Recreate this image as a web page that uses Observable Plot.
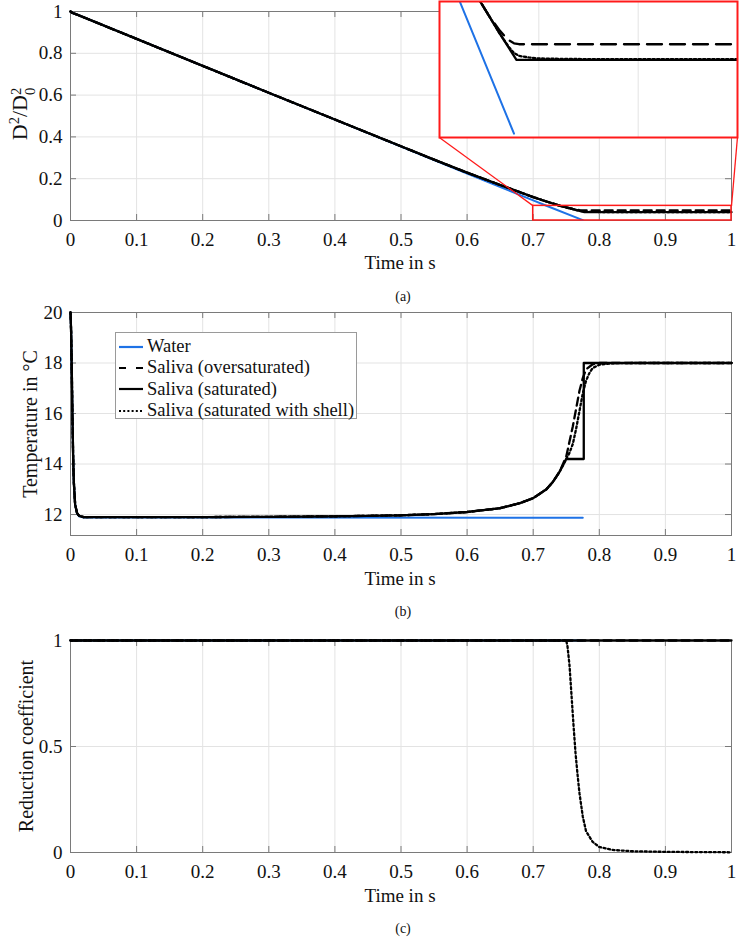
<!DOCTYPE html>
<html><head><meta charset="utf-8">
<script src="https://cdn.jsdelivr.net/npm/d3@7"></script>
<script src="https://cdn.jsdelivr.net/npm/@observablehq/plot@0.6"></script>
<style>
body{margin:0;background:#fff;}
#fig{position:relative;width:739px;height:939px;font-family:"Liberation Serif","Times New Roman",serif;color:#111;overflow:hidden;}
#fig > *{position:absolute;}
#fig svg text{font-family:"Liberation Serif","Times New Roman",serif !important;}
.lbl{white-space:nowrap;line-height:1;transform:translate(-50%,-50%);}
.vlbl{white-space:nowrap;line-height:1;transform:translate(-50%,-50%) rotate(-90deg);}
.stack{display:inline-flex;flex-direction:column;font-size:0.66em;line-height:0.95;vertical-align:0.42em;}
.legend{background:#fff;border:1px solid #9a9a9a;box-sizing:border-box;font-size:18.5px;}
.legend .row{display:flex;align-items:center;height:21.3px;}
</style></head><body><div id="fig"></div>
<script>
// ---------- shared axis ticks ----------
const timeTicks = [0, 0.1, 0.2, 0.3, 0.4, 0.5, 0.6, 0.7, 0.8, 0.9, 1];
const timeTickLabels = ["0", "0.1", "0.2", "0.3", "0.4", "0.5", "0.6", "0.7", "0.8", "0.9", "1"];

// ---------- panel (a): D^2/D0^2 ----------
const aTicks = [0, 0.2, 0.4, 0.6, 0.8, 1];
const aTickLabels = ["0", "0.2", "0.4", "0.6", "0.8", "1"];
const aWaterT = [0, 0.003, 0.01, 0.1, 0.2, 0.3, 0.4, 0.5, 0.6, 0.7, 0.72, 0.775];
const aWaterV = [1, 0.993, 0.985, 0.869, 0.740, 0.611, 0.483, 0.354, 0.225, 0.096, 0.0705, 0.002];
const aOverT = [0, 0.003, 0.01, 0.1, 0.2, 0.3, 0.4, 0.5, 0.55, 0.6, 0.65, 0.7, 0.72, 0.741, 0.75, 0.755, 0.76, 0.765, 0.77, 0.775, 0.78, 1];
const aOverV = [1, 0.993, 0.985, 0.869, 0.740, 0.611, 0.483, 0.355, 0.291, 0.229, 0.170, 0.112, 0.091, 0.070, 0.0625, 0.059, 0.0555, 0.0525, 0.050, 0.0485, 0.048, 0.048];
const aSatT = [0, 0.003, 0.01, 0.1, 0.2, 0.3, 0.4, 0.5, 0.55, 0.6, 0.65, 0.7, 0.72, 0.741, 0.75, 0.76, 0.7775, 1];
const aSatV = [1, 0.993, 0.985, 0.869, 0.740, 0.611, 0.483, 0.355, 0.291, 0.229, 0.170, 0.112, 0.091, 0.070, 0.0625, 0.054, 0.040, 0.040];
const aShellT = [0, 0.003, 0.01, 0.1, 0.2, 0.3, 0.4, 0.5, 0.55, 0.6, 0.65, 0.7, 0.72, 0.741, 0.75, 0.76, 0.77, 0.775, 0.78, 0.79, 0.8, 0.82, 0.86, 1];
const aShellV = [1, 0.993, 0.985, 0.869, 0.740, 0.611, 0.483, 0.355, 0.291, 0.229, 0.170, 0.112, 0.091, 0.070, 0.0625, 0.054, 0.0465, 0.0435, 0.042, 0.0412, 0.0407, 0.0405, 0.0403, 0.0403];
// zoomed region (data units) and the inset's placement (in main-axes data units)
const zoomX = [0.7, 1];
const zoomY = [0, 0.07];
const zoomGrid = [0.8, 0.9];
const insetPlaceX = [0.558, 1.009];
const insetPlaceY = [0.397, 1.048];

// ---------- panel (b): temperature ----------
const bTicks = [12, 14, 16, 18, 20];
const bTickLabels = ["12", "14", "16", "18", "20"];
const bWaterT = [0, 0.001, 0.002, 0.003, 0.004, 0.005, 0.007, 0.01, 0.013, 0.02, 0.3, 0.775];
const bWaterV = [20, 19.2, 17.6, 15.8, 14.3, 13.3, 12.4, 12.03, 11.93, 11.88, 11.88, 11.87];
const bOverT = [0, 0.001, 0.002, 0.003, 0.004, 0.005, 0.007, 0.01, 0.013, 0.02, 0.1, 0.2, 0.3, 0.4, 0.5, 0.55, 0.6, 0.65, 0.68, 0.7, 0.72, 0.73, 0.74, 0.75, 0.755, 0.76, 0.765, 0.77, 0.775, 0.78, 0.79, 0.8, 1];
const bOverV = [20, 19.2, 17.6, 15.8, 14.3, 13.3, 12.4, 12.05, 11.95, 11.9, 11.9, 11.9, 11.91, 11.93, 11.97, 12.02, 12.1, 12.25, 12.45, 12.65, 13.0, 13.3, 13.7, 14.3, 14.9, 15.5, 16.2, 16.9, 17.4, 17.75, 17.95, 18, 18];
const bSatT = [0, 0.001, 0.002, 0.003, 0.004, 0.005, 0.007, 0.01, 0.013, 0.02, 0.1, 0.2, 0.3, 0.4, 0.5, 0.55, 0.6, 0.65, 0.68, 0.7, 0.72, 0.73, 0.74, 0.75, 0.7765, 0.7765, 1];
const bSatV = [20, 19.2, 17.6, 15.8, 14.3, 13.3, 12.4, 12.05, 11.95, 11.9, 11.9, 11.9, 11.91, 11.93, 11.97, 12.02, 12.1, 12.25, 12.45, 12.65, 13.0, 13.3, 13.7, 14.2, 14.2, 18.0, 18.0];
const bShellT = [0, 0.001, 0.002, 0.003, 0.004, 0.005, 0.007, 0.01, 0.013, 0.02, 0.1, 0.2, 0.3, 0.4, 0.5, 0.55, 0.6, 0.65, 0.68, 0.7, 0.72, 0.73, 0.74, 0.75, 0.755, 0.76, 0.765, 0.77, 0.775, 0.78, 0.785, 0.79, 0.8, 0.82, 0.85, 1];
const bShellV = [20, 19.2, 17.6, 15.8, 14.3, 13.3, 12.4, 12.05, 11.95, 11.9, 11.9, 11.9, 11.91, 11.93, 11.97, 12.02, 12.1, 12.25, 12.45, 12.65, 13.0, 13.3, 13.7, 14.2, 14.45, 14.8, 15.4, 16.1, 16.8, 17.3, 17.6, 17.8, 17.93, 17.99, 18, 18];

// ---------- panel (c): reduction coefficient ----------
const cTicks = [0, 0.5, 1];
const cTickLabels = ["0", "0.5", "1"];
const cWaterT = [0, 0.775];
const cWaterV = [1, 1];
const cOverT = [0, 1];
const cOverV = [1, 1];
const cSatT = [0, 1];
const cSatV = [1, 1];
const cShellT = [0, 0.75, 0.752, 0.755, 0.758, 0.761, 0.764, 0.767, 0.77, 0.775, 0.78, 0.79, 0.8, 0.82, 0.85, 0.9, 1];
const cShellV = [1, 1, 0.97, 0.88, 0.74, 0.6, 0.47, 0.37, 0.28, 0.17, 0.1, 0.05, 0.026, 0.012, 0.006, 0.003, 0.001];

// ---------- legend ----------
const seriesNames = ["Water", "Saliva (oversaturated)", "Saliva (saturated)", "Saliva (saturated with shell)"];

// ---------- styles ----------
const W = 739, ML = 70, MR = 8;
const BLUE = "#1e72e6", AX = "#7a7a7a", GRID = "#e3e3e3";
const FONT = '"Liberation Serif","Times New Roman",serif';
const styles = [
  {stroke: BLUE, strokeWidth: 2, dash: null},
  {stroke: "#000", strokeWidth: 2.3, dash: "8,5"},
  {stroke: "#000", strokeWidth: 2.3, dash: null},
  {stroke: "#000", strokeWidth: 2.3, dash: "2,2.6"}
];
const fig = document.getElementById("fig");

function lineMarks(series, order, opts = {}) {
  return order.map(i => {
    const [T, V] = series[i];
    const s = styles[i];
    return Plot.line(V, {x: T, y: V, stroke: s.stroke, strokeWidth: s.strokeWidth,
      strokeDasharray: opts.dash && opts.dash[i] !== undefined ? opts.dash[i] : s.dash,
      clip: !!opts.clip, curve: "linear"});
  });
}

function panel({top, height, mt, mb, yDomain, yTicks, yTickLabels, series, extra = []}) {
  const plotH = height - mt - mb, plotW = W - ML - MR;
  const svg = Plot.plot({
    width: W, height, marginLeft: ML, marginRight: MR, marginTop: mt, marginBottom: mb,
    style: {background: "transparent", overflow: "visible", fontFamily: FONT, color: "#111"},
    x: {domain: [0, 1]},
    y: {domain: yDomain},
    marks: [
      Plot.ruleX(timeTicks, {stroke: GRID, strokeWidth: 1}),
      Plot.ruleY(yTicks, {stroke: GRID, strokeWidth: 1}),
      Plot.ruleX(timeTicks, {stroke: AX, insetTop: plotH - 6}),
      Plot.ruleX(timeTicks, {stroke: AX, insetBottom: plotH - 6}),
      Plot.ruleY(yTicks, {stroke: AX, insetRight: plotW - 6}),
      Plot.ruleY(yTicks, {stroke: AX, insetLeft: plotW - 6}),
      Plot.frame({stroke: AX, strokeWidth: 1}),
      ...lineMarks(series, [0, 2, 1, 3]),
      Plot.axisX(timeTicks, {tickSize: 0, tickPadding: 12, fontSize: 19, label: null,
        tickFormat: d => timeTickLabels[timeTicks.indexOf(d)]}),
      Plot.axisY(yTicks, {anchor: "left", tickSize: 0, tickPadding: 8, fontSize: 19, label: null,
        tickFormat: d => yTickLabels[yTicks.indexOf(d)]}),
      ...extra
    ]
  });
  svg.style.left = "0px";
  svg.style.top = top + "px";
  fig.appendChild(svg);
  return svg;
}

function addText(html, x, y, cls, size) {
  const d = document.createElement("div");
  d.className = cls;
  d.style.left = x + "px";
  d.style.top = y + "px";
  d.style.fontSize = size + "px";
  d.innerHTML = html;
  fig.appendChild(d);
  return d;
}

// ---------- (a) ----------
const aSeries = [[aWaterT, aWaterV], [aOverT, aOverV], [aSatT, aSatV], [aShellT, aShellV]];
const svgA = panel({
  top: 0, height: 270, mt: 11, mb: 50, yDomain: [0, 1], yTicks: aTicks, yTickLabels: aTickLabels,
  series: aSeries,
  extra: [
    Plot.rect([{x1: zoomX[0], x2: zoomX[1], y1: zoomY[0], y2: zoomY[1]}],
      {x1: "x1", x2: "x2", y1: "y1", y2: "y2", fill: "none", stroke: "#ff1a1a", strokeWidth: 1.5}),
    Plot.link([
      {x1: zoomX[0], y1: zoomY[1], x2: insetPlaceX[0], y2: insetPlaceY[0]},
      {x1: zoomX[1], y1: zoomY[1], x2: insetPlaceX[1], y2: insetPlaceY[0]}
    ], {x1: "x1", y1: "y1", x2: "x2", y2: "y2", stroke: "#ff1a1a", strokeWidth: 1.3})
  ]
});
// inset
{
  const sx = svgA.scale("x"), sy = svgA.scale("y");
  const left = sx.apply(insetPlaceX[0]), right = sx.apply(insetPlaceX[1]);
  const topP = sy.apply(insetPlaceY[1]), bottom = sy.apply(insetPlaceY[0]);
  const iw = Math.round(right - left), ih = Math.round(bottom - topP);
  const inset = Plot.plot({
    width: iw, height: ih, margin: 0,
    style: {background: "#fff", overflow: "visible"},
    x: {domain: zoomX, axis: null},
    y: {domain: zoomY, axis: null},
    marks: [
      Plot.ruleX(zoomGrid, {stroke: GRID}),
      ...lineMarks(aSeries, [0, 2, 1, 3], {clip: true, dash: [null, "15,8", null, "2.2,2.4"]}),
      Plot.frame({stroke: "#ff1a1a", strokeWidth: 2})
    ]
  });
  inset.style.left = Math.round(left) + "px";
  inset.style.top = Math.round(topP) + "px";
  fig.appendChild(inset);
}
addText("Time in s", 400, 262, "lbl", 19);
addText("(a)", 403, 297, "lbl", 14);
addText('D<sup style="font-size:0.66em">2</sup>/D<span class="stack"><span>2</span><span>0</span></span>', 22, 114, "vlbl", 22);

// ---------- (b) ----------
const bSeries = [[bWaterT, bWaterV], [bOverT, bOverV], [bSatT, bSatV], [bShellT, bShellV]];
panel({
  top: 300, height: 285, mt: 12, mb: 50, yDomain: [11.17, 20], yTicks: bTicks, yTickLabels: bTickLabels,
  series: bSeries
});
addText("Time in s", 400, 578, "lbl", 19);
addText("(b)", 403, 612, "lbl", 14);
addText("Temperature in °C", 30, 424, "vlbl", 20);

// legend
{
  const lg = document.createElement("div");
  lg.className = "legend";
  lg.style.left = "115px"; lg.style.top = "332px";
  lg.style.width = "242px"; lg.style.height = "87px";
  lg.style.padding = "3px 0 0 2px";
  seriesNames.forEach((name, i) => {
    const s = styles[i];
    const row = document.createElement("div");
    row.className = "row";
    const dash = i === 1 ? "7,10" : i === 3 ? "2,2.2" : null;
    row.innerHTML = `<svg width="27" height="10" style="flex:none"><line x1="1" x2="25" y1="5" y2="5" stroke="${s.stroke}" stroke-width="${i === 3 ? 2 : 2.2}" ${dash ? `stroke-dasharray="${dash}"` : ""}/></svg><span style="margin-left:2px">${name}</span>`;
    lg.appendChild(row);
  });
  fig.appendChild(lg);
}

// ---------- (c) ----------
const cSeries = [[cWaterT, cWaterV], [cOverT, cOverV], [cSatT, cSatV], [cShellT, cShellV]];
panel({
  top: 628, height: 274, mt: 12, mb: 50, yDomain: [0, 1], yTicks: cTicks, yTickLabels: cTickLabels,
  series: cSeries
});
addText("Time in s", 400, 895, "lbl", 19);
addText("(c)", 403, 929, "lbl", 14);
addText("Reduction coefficient", 26, 746, "vlbl", 20);
</script></body></html>
